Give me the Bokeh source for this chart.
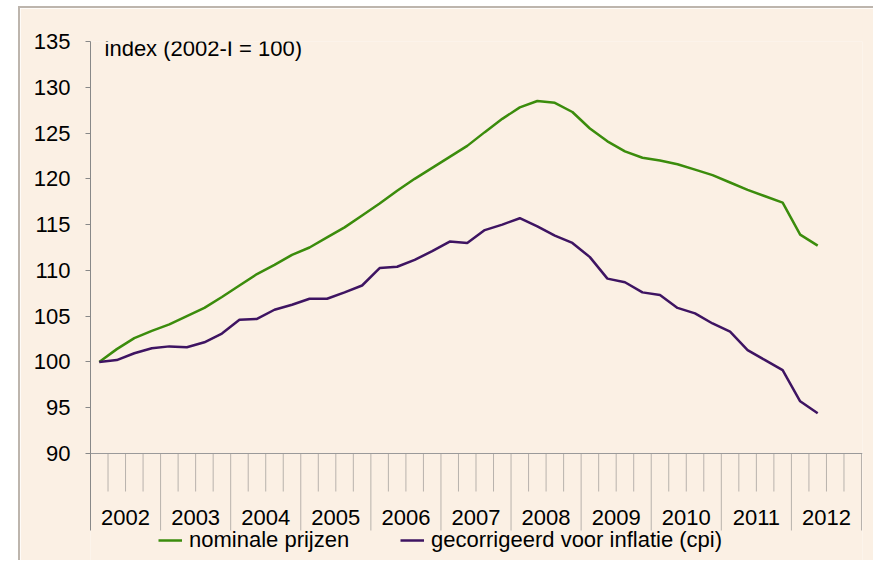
from bokeh.plotting import figure
from bokeh.models import (Range1d, FixedTicker, Span, Legend, LegendItem, Label,
                          ColumnDataSource, Spacer)
from bokeh.layouts import row, column
from bokeh.embed import file_html
from bokeh.resources import INLINE
from bokeh.core.properties import value

# ---------------- data ----------------
years = ["2002", "2003", "2004", "2005", "2006", "2007", "2008", "2009", "2010", "2011", "2012"]
quarters = ["I", "II", "III", "IV"]
nominale = [100.0, 101.4, 102.6, 103.4, 104.1, 105.0, 105.9, 107.1, 108.35, 109.6, 110.6,
            111.7, 112.5, 113.6, 114.7, 116.0, 117.3, 118.7, 120.0, 121.2, 122.4, 123.6,
            125.1, 126.55, 127.8, 128.5, 128.3, 127.3, 125.5, 124.1, 123.0, 122.3, 122.0,
            121.6, 121.0, 120.4, 119.6, 118.8, 118.1, 117.4, 113.9, 112.7]
gecorrigeerd = [100.0, 100.2, 100.95, 101.5, 101.7, 101.6, 102.15, 103.1, 104.6, 104.7,
                105.7, 106.25, 106.9, 106.9, 107.6, 108.35, 110.25, 110.4, 111.15, 112.1,
                113.15, 113.0, 114.4, 115.0, 115.7, 114.8, 113.8, 113.0, 111.45, 109.1,
                108.7, 107.6, 107.3, 105.9, 105.3, 104.2, 103.3, 101.3, 100.2, 99.1,
                95.7, 94.4]
y_ticks = [90, 95, 100, 105, 110, 115, 120, 125, 130, 135]
labels = ["nominale prijzen", "gecorrigeerd voor inflatie (cpi)"]
note = "index (2002-I = 100)"

# ---------------- styling / geometry ----------------
BG = "#FBF0E4"
GREEN = "#3B8C0C"
PURPLE = "#3E1462"
AXIS = "#888888"
TICK = "#B8B2AC"
FONT = "Liberation Sans"
FS = "22px"

W, H = 855, 554
ML, MR, MT, MB = 70, 13, 33, 0
frame_h = H - MT - MB
ppu = 412.0 / 45.0                      # pixels per index unit
y_top = 135
y_bottom = y_top - frame_h / ppu
n_q = len(years) * len(quarters)
x_end = n_q + 1.0 / 17.52

def px_to_y(px_from_top):
    return y_top - px_from_top / ppu

y_axis_base = 90
short_tick_end = y_axis_base - 38 / ppu
long_tick_end = px_to_y(530 - 41)
year_label_y = px_to_y(517 - 41)

p = figure(width=W, height=H, output_backend="svg", toolbar_location=None,
           x_axis_location=None, x_range=Range1d(0, x_end),
           y_range=Range1d(y_bottom, y_top),
           min_border_left=ML, min_border_right=MR, min_border_top=MT,
           min_border_bottom=MB)
p.background_fill_color = BG
p.border_fill_color = BG
p.outline_line_color = None
p.grid.visible = False
p.styles = {"border-top": "2px solid #BDB5AD", "border-left": "2px solid #BDB5AD",
            "box-sizing": "border-box"}

ya = p.yaxis[0]
ya.ticker = FixedTicker(ticks=y_ticks)
ya.bounds = (long_tick_end, y_top)
ya.axis_line_color = AXIS
ya.major_tick_line_color = AXIS
ya.major_tick_out = 5
ya.major_tick_in = 0
ya.minor_tick_line_color = None
ya.major_label_text_font = FONT
ya.major_label_text_font_size = FS
ya.major_label_text_color = "#000000"
ya.major_label_standoff = 15

# x axis line and category ticks
p.add_layout(Span(location=y_axis_base, dimension="width", line_color="#9A9A9A",
                  line_width=1))
q_pos = [i for i in range(1, n_q) if i % 4 != 0]
y_pos = [i for i in range(4, n_q + 1, 4)]
p.segment(x0=q_pos, y0=[y_axis_base] * len(q_pos), x1=q_pos,
          y1=[short_tick_end] * len(q_pos), line_color=TICK, line_width=1)
p.segment(x0=y_pos, y0=[y_axis_base] * len(y_pos), x1=y_pos,
          y1=[long_tick_end] * len(y_pos), line_color=TICK, line_width=1)
year_x = [4 * k + 2 for k in range(len(years))]
p.text(x=year_x, y=[year_label_y] * len(years), text=years,
       text_font=value(FONT), text_font_size=FS, text_align="center",
       text_baseline="middle", text_color="#000000")

xs = [i + 0.5 for i in range(len(nominale))]
src = ColumnDataSource(dict(x=xs, nom=nominale, real=gecorrigeerd))
r1 = p.line("x", "nom", source=src, line_color=GREEN, line_width=2.5)
r2 = p.line("x", "real", source=src, line_color=PURPLE, line_width=2.5)

p.add_layout(Label(x=0.8, y=px_to_y(48 - 41), text=note, text_font=FONT,
                   text_font_size=FS, text_baseline="middle", text_color="#000000"))

legend = Legend(items=[LegendItem(label=labels[0], renderers=[r1]),
                       LegendItem(label=labels[1], renderers=[r2])],
                orientation="horizontal", location=(68, 9),
                background_fill_alpha=0, border_line_color=None,
                padding=0, margin=0, spacing=40, glyph_width=24, glyph_height=20,
                label_standoff=7, label_width=171, label_height=20,
                label_text_font=FONT, label_text_font_size=FS,
                label_text_color="#000000")
p.add_layout(legend)

layout = column(Spacer(width=10, height=6), row(Spacer(width=18, height=H), p))
open("out.html", "w").write(file_html(layout, INLINE))
